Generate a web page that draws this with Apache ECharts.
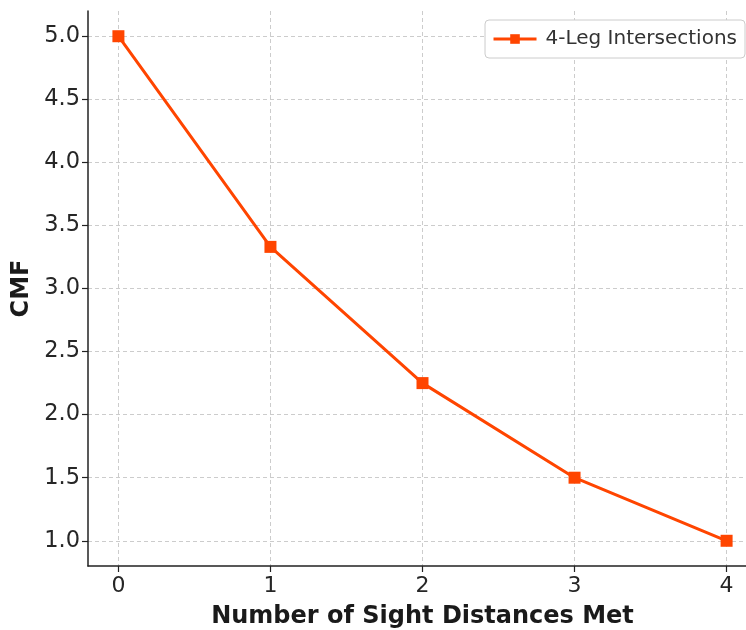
<!DOCTYPE html>
<html>
<head>
<meta charset="utf-8">
<script src="https://cdn.jsdelivr.net/npm/echarts@6/dist/echarts.min.js"></script>
<style>html,body{margin:0;padding:0;background:#fff}#c{width:746px;height:630px}</style>
</head>
<body>
<div id="c"></div>
<script>
var categories = [0, 1, 2, 3, 4];
var cmfValues = [5.0, 3.33, 2.25, 1.5, 1.0];
var xTicks = [0, 1, 2, 3, 4];
var yTicks = [1.0, 1.5, 2.0, 2.5, 3.0, 3.5, 4.0, 4.5, 5.0];
var seriesName = '4-Leg Intersections';

var FONT = 'DejaVu Sans';
var chart = echarts.init(document.getElementById('c'), null, {renderer: 'canvas'});
var gridLine = {show: true, lineStyle: {color: '#cccccc', type: [4, 3], width: 1}};
chart.setOption({
  animation: false,
  backgroundColor: '#ffffff',
  grid: {left: 88, width: 669, top: 11, height: 555, containLabel: false, outerBoundsMode: 'none'},
  legend: {
    right: 1, top: 20,
    padding: [9, 8, 9, 7],
    backgroundColor: '#ffffff',
    borderColor: '#cccccc', borderWidth: 1, borderRadius: 4,
    itemWidth: 43, itemHeight: 12, itemGap: 10,
    lineStyle: {width: 3},
    textStyle: {fontFamily: FONT, fontSize: 20, color: '#333333', padding: [0, 0, 0, 4]},
    data: [seriesName]
  },
  xAxis: {
    type: 'value', min: -0.2, max: 4.2,
    name: 'Number of Sight Distances Met', nameLocation: 'middle', nameGap: 39,
    nameTextStyle: {fontFamily: FONT, fontSize: 24, fontWeight: 'bold', color: '#1a1a1a'},
    axisLine: {show: true, onZero: false, lineStyle: {color: '#222222', width: 1.5}},
    axisTick: {show: true, length: 6, customValues: xTicks, lineStyle: {color: '#222222', width: 1.2}},
    axisLabel: {customValues: xTicks, fontFamily: FONT, fontSize: 22, color: '#262626', margin: 9},
    splitLine: gridLine
  },
  yAxis: {
    type: 'value', min: 0.8, max: 5.2,
    name: 'CMF', nameLocation: 'middle', nameGap: 51, nameRotate: 90,
    nameTextStyle: {fontFamily: FONT, fontSize: 24, fontWeight: 'bold', color: '#1a1a1a'},
    axisLine: {show: true, onZero: false, lineStyle: {color: '#222222', width: 1.5}},
    axisTick: {show: true, length: 6, customValues: yTicks, lineStyle: {color: '#222222', width: 1.2}},
    axisLabel: {customValues: yTicks, fontFamily: FONT, fontSize: 22.5, color: '#262626', margin: 8,
      formatter: function (v) { return v.toFixed(1); }},
    splitLine: gridLine
  },
  series: [{
    name: seriesName,
    type: 'line',
    data: categories.map(function (c, i) { return [c, cmfValues[i]]; }),
    symbol: 'rect', symbolSize: 12,
    itemStyle: {color: '#FF4500'},
    lineStyle: {color: '#FF4500', width: 3},
    z: 5
  }]
});
</script>
</body>
</html>
